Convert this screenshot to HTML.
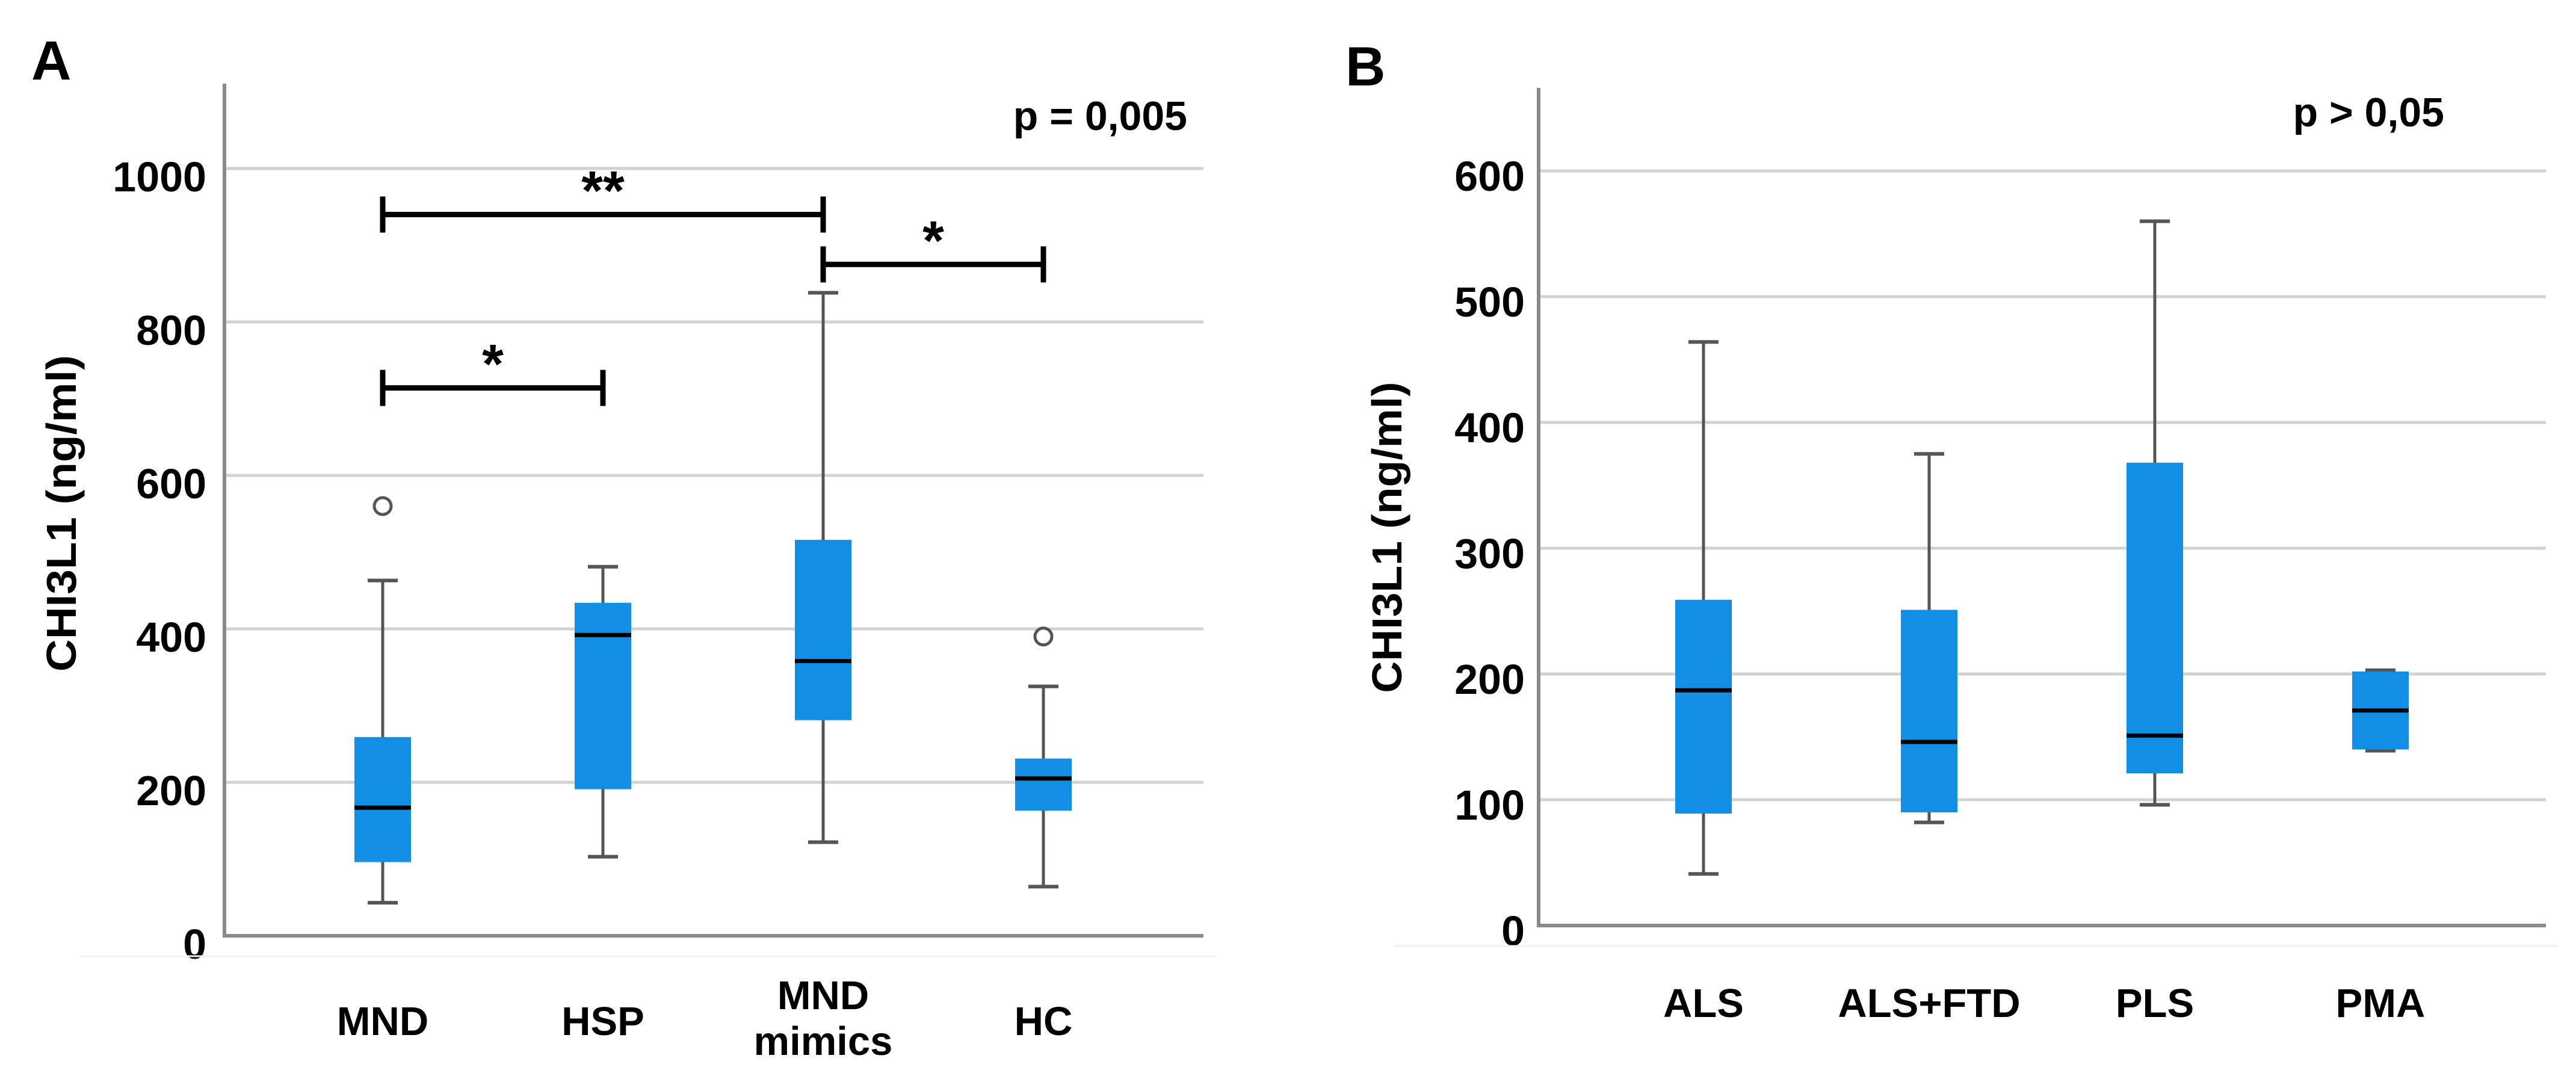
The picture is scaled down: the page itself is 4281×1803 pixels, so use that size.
<!DOCTYPE html>
<html><head><meta charset="utf-8"><style>
html,body{margin:0;padding:0;background:#fff;width:4281px;height:1803px;overflow:hidden}
svg{display:block}
text{font-family:"Liberation Sans",Arial,sans-serif;font-weight:bold;fill:#000}
</style></head><body>
<svg id="fig" width="4281" height="1803" viewBox="0 0 4281 1803" xmlns="http://www.w3.org/2000/svg"></svg>
<script>
// Panel A data
const catsA = ["MND","HSP","MND mimics","HC"];
const whiskHiA = [463,481,838,325];
const q3A = [259,434,516,231];
const medA = [167,392,358,205];
const q1A = [96,191,281,163];
const whiskLoA = [43,103,122,64];
const outliersA = [[560],[],[],[390]];
const ticksA = [0,200,400,600,800,1000];
const sigFromA = [0,2,0];
const sigToA = [2,3,1];
const sigLevelA = [940,875,714];
const sigLabelA = ["**","*","*"];
// Panel B data
const catsB = ["ALS","ALS+FTD","PLS","PMA"];
const whiskHiB = [464,375,560,203];
const q3B = [259,251,368,202];
const medB = [187,146,151,171];
const q1B = [89,90,121,140];
const whiskLoB = [41,82,96,139];
const ticksB = [0,100,200,300,400,500,600];

const NS="http://www.w3.org/2000/svg";
const svg=document.getElementById('fig');
function mk(tag,attrs,parent){const e=document.createElementNS(NS,tag);for(const k in attrs)e.setAttribute(k,attrs[k]);(parent||svg).appendChild(e);return e;}

function panel(o){
  const g=mk('g',{});
  
  
  const y=v=>o.y0-(v-0)*o.ky;
  const x=i=>o.x0+i*o.dx;
  o.ticks.forEach(t=>{
    if(t>0){const l=mk('line',{x1:o.axX,x2:o.right,y1:y(t),y2:y(t),stroke:'#d2d2d2','stroke-width':5},g);
    
    }
    const tx=mk('text',{x:o.tickRight,y:y(t)+o.tickOff,'text-anchor':'end','font-size':70},g);
    tx.textContent=t;
    
    
  });
  const fl=mk('line',{x1:o.axX-240,x2:o.right+20,y1:o.y0+34,y2:o.y0+34,stroke:'#f0f0f0','stroke-width':3},g);
  
  
  const ax=mk('path',{d:`M${o.axX},${o.axTop} L${o.axX},${o.y0} L${o.right},${o.y0}`,fill:'none',stroke:'#8a8a8a','stroke-width':6},g);
  
  
  o.cats.forEach((c,i)=>{
    const cx=x(i);
    const bg=mk('g',{},g);
    
    
    mk('line',{x1:cx,x2:cx,y1:y(o.hi[i]),y2:y(o.lo[i]),stroke:'#555','stroke-width':5},bg);
    mk('line',{x1:cx-25,x2:cx+25,y1:y(o.hi[i]),y2:y(o.hi[i]),stroke:'#555','stroke-width':6},bg);
    mk('line',{x1:cx-25,x2:cx+25,y1:y(o.lo[i]),y2:y(o.lo[i]),stroke:'#555','stroke-width':6},bg);
    mk('rect',{x:cx-47,y:y(o.q3[i]),width:94,height:y(o.q1[i])-y(o.q3[i]),fill:'#138ee5'},bg);
    mk('line',{x1:cx-47,x2:cx+47,y1:y(o.med[i]),y2:y(o.med[i]),stroke:'#000','stroke-width':7},bg);
    (o.out?o.out[i]:[]).forEach(v=>{
      const c2=mk('circle',{cx:cx,cy:y(v),r:14,fill:'#fff',stroke:'#555','stroke-width':5},g);
      
      
    });
    const lines=c.split(' ');
    lines.forEach((ln,k)=>{
      const t=mk('text',{x:cx,y:o.labY-(lines.length-1-k)*76+(lines.length>1?33:0),'text-anchor':'middle','font-size':67},g);
      t.textContent=ln;
      
      
    });
  });
  const yt=mk('text',{x:0,y:0,'text-anchor':'middle','font-size':70,transform:`translate(${o.ytX},${o.ytY}) rotate(-90)`,textLength:o.ytLen,lengthAdjust:'spacingAndGlyphs'},g);
  yt.textContent='CHI3L1  (ng/ml)';
  
  
  const pv=mk('text',{x:o.pX,y:o.pY,'text-anchor':'end','font-size':68},g);
  pv.textContent=o.p;
  
  
  const pl=mk('text',{x:o.letX,y:o.letY,'font-size':92},g);
  pl.textContent=o.letter;
  
  
  if(o.sigFrom){
    o.sigFrom.forEach((f,j)=>{
      const sg=mk('g',{},g);
      
      
      const x1=x(f),x2=x(o.sigTo[j]),yy=y(o.sigLevel[j]);
      mk('line',{x1:x1,x2:x2,y1:yy,y2:yy,stroke:'#000','stroke-width':9},sg);
      mk('line',{x1:x1,x2:x1,y1:yy-30,y2:yy+30,stroke:'#000','stroke-width':9},sg);
      mk('line',{x1:x2,x2:x2,y1:yy-30,y2:yy+30,stroke:'#000','stroke-width':9},sg);
      const st=mk('text',{x:(x1+x2)/2,y:yy-8,'text-anchor':'middle','font-size':92},sg);
      st.textContent=o.sigLabel[j];
    });
  }
}

panel({name:'panel-a',cats:catsA,hi:whiskHiA,q3:q3A,med:medA,q1:q1A,lo:whiskLoA,out:outliersA,ticks:ticksA,
  x0:636,dx:366,y0:1555,ky:1.275,axX:373,axTop:139,right:2000,tickRight:343,tickOff:38,labY:1720,
  ytX:126,ytY:853,ytLen:526,pX:1973,pY:216,p:'p = 0,005',letX:52,letY:132,letter:'A',
  sigFrom:sigFromA,sigTo:sigToA,sigLevel:sigLevelA,sigLabel:sigLabelA});
panel({name:'panel-b',cats:catsB,hi:whiskHiB,q3:q3B,med:medB,q1:q1B,lo:whiskLoB,out:null,ticks:ticksB,
  x0:2831,dx:375,y0:1538,ky:2.09,axX:2557,axTop:146,right:4231,tickRight:2534,tickOff:33,labY:1690,
  ytX:2329,ytY:893,ytLen:517,pX:4062,pY:210,p:'p > 0,05',letX:2236,letY:142,letter:'B'});
</script>
</body></html>
